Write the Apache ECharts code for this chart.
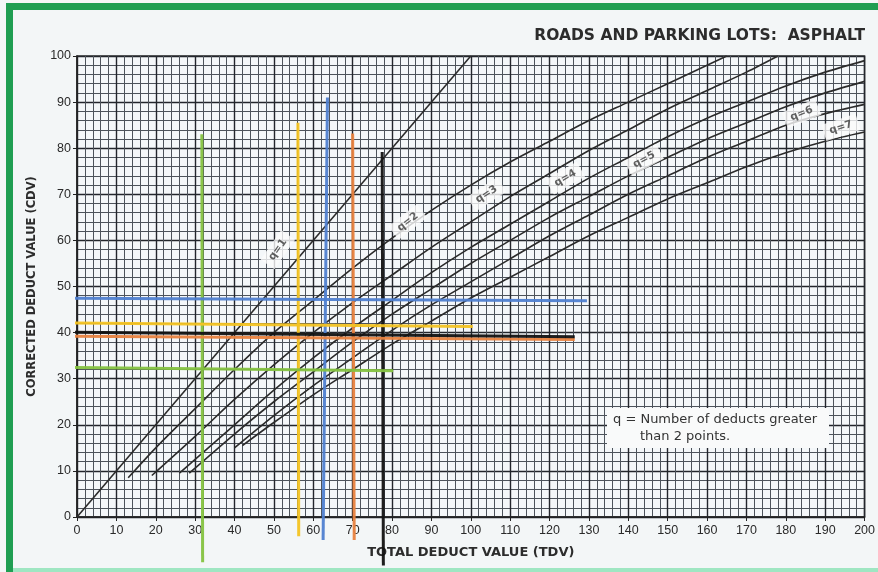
<!DOCTYPE html>
<html>
<head>
<meta charset="utf-8">
<script src="https://cdn.jsdelivr.net/npm/echarts@6/dist/echarts.min.js"></script>
<style>
  html, body { margin: 0; padding: 0; background: #f3f6f7; }
  #cdv-chart { width: 878px; height: 572px; }
</style>
</head>
<body>
<div id="cdv-chart"></div>
<script>
// corrected deduct value curves, [TDV, CDV] pairs
const curveNames = ['q=1', 'q=2', 'q=3', 'q=4', 'q=5', 'q=6', 'q=7'];
const q1 = [[0, 0], [100, 100]];
const q2 = [[13, 8.5], [20, 15], [30, 23.5], [40, 32], [50, 40], [60, 47], [70, 54], [80, 60.5], [90, 66.5], [100, 72], [110, 77], [120, 81.5], [130, 86], [140, 90], [150, 94], [160, 98], [165, 100]];
const q3 = [[19, 9], [30, 17.5], [40, 25.5], [50, 33], [60, 40], [70, 46.5], [80, 52.5], [90, 58.5], [100, 64], [110, 69.5], [120, 74.5], [130, 79.5], [140, 84], [150, 88.5], [160, 92.5], [170, 96.5], [178, 100]];
const q4 = [[26, 9.5], [30, 12.5], [40, 20], [50, 27.5], [60, 34.5], [70, 41], [80, 47], [90, 53], [100, 58.5], [110, 63.5], [120, 68.5], [130, 73.5], [140, 78], [150, 82.5], [160, 86.5], [170, 90], [180, 93.5], [190, 96.5], [200, 99]];
const q5 = [[28.5, 9.5], [40, 18], [50, 25], [60, 31.5], [70, 38], [80, 44], [90, 49.5], [100, 55], [110, 60], [120, 65], [130, 69.5], [140, 74], [150, 78], [160, 82], [170, 85.5], [180, 89], [190, 92], [200, 94.5]];
const q6 = [[40, 15], [50, 22], [60, 28.5], [70, 34.5], [80, 40.5], [90, 46], [100, 51], [110, 56], [120, 61], [130, 65.5], [140, 70], [150, 74], [160, 78], [170, 81.5], [180, 85], [190, 87.5], [200, 89.5]];
const q7 = [[42, 15.5], [50, 20.5], [60, 26.5], [70, 32], [80, 37.5], [90, 42.5], [100, 47.5], [110, 52], [120, 56.5], [130, 61], [140, 65], [150, 69], [160, 72.5], [170, 76], [180, 79], [190, 81.5], [200, 83.5]];
const curves = [q1, q2, q3, q4, q5, q6, q7];

// where each q label sits on its curve: [TDV, CDV, rotation]
const curveLabelAt = [[51, 58, 55], [84, 64, 38], [104, 70, 33], [124, 73.5, 30], [144, 77.5, 28], [184, 87.5, 22], [194, 84.5, 18]];

// hand-drawn reading lines over the chart
const guideColors = ['#84c240', '#f3c322', '#4f7fd0', '#e8823f', '#121212'];
const guideVertical = [
    [[31.9, -9.8], [31.7, 83]],
    [[56.3, -4.2], [56.1, 85.5]],
    [[62.5, -5], [63.6, 91]],
    [[70.4, -5], [70, 83.2]],
    [[77.8, -10.5], [77.5, 79.2]]
];
const guideHorizontal = [
    [[-18, 32.6], [80.3, 31.7]],
    [[-18, 42.2], [100.5, 41.3]],
    [[-18, 47.5], [129.5, 46.9]],
    [[-18, 39.3], [126.4, 38.5]],
    [[-14.4, 40.2], [126.4, 39.1]]
];

const xTicks = { min: 0, max: 200, step: 10 };
const yTicks = { min: 0, max: 100, step: 10 };

let chart = echarts.init(document.getElementById('cdv-chart'), null, { renderer: 'canvas' });

let series = [];
curves.forEach(function (pts, i) {
    series.push({
        name: curveNames[i],
        type: 'line',
        data: pts,
        smooth: 0.3,
        showSymbol: false,
        z: 4,
        lineStyle: { color: '#2b2b2b', width: 1.6 }
    });
});
series.push({
    name: 'curve labels',
    type: 'scatter',
    symbol: 'rect',
    z: 6,
    silent: true,
    itemStyle: { color: '#fbfbfb' },
    data: curveLabelAt.map(function (p, i) {
        return {
            value: [p[0], p[1]],
            symbolSize: [36, 17],
            symbolRotate: p[2],
            label: {
                show: true,
                position: 'inside',
                formatter: curveNames[i],
                rotate: p[2],
                fontFamily: 'DejaVu Sans',
                fontSize: 10.5,
                fontWeight: 'bold',
                color: '#3a3a3a'
            }
        };
    })
});
guideVertical.concat(guideHorizontal).forEach(function (pts, i) {
    series.push({
        type: 'line',
        data: pts,
        showSymbol: false,
        clip: false,
        silent: true,
        z: 5,
        lineStyle: { color: guideColors[i % 5], width: 3, opacity: 0.95 }
    });
});

let options = {
    backgroundColor: '#f3f6f7',
    animation: false,
    title: {
        text: 'ROADS AND PARKING LOTS:  ASPHALT',
        right: 8,
        top: 23,
        textStyle: { fontFamily: 'DejaVu Sans', fontSize: 15.5, fontWeight: 'bold', color: '#2c2c2c' }
    },
    grid: { left: 77, right: 9, top: 56, bottom: 55, show: true, backgroundColor: '#f4f7f9', borderColor: '#333', borderWidth: 1.5 },
    xAxis: {
        type: 'value',
        min: xTicks.min, max: xTicks.max, interval: xTicks.step,
        name: 'TOTAL DEDUCT VALUE (TDV)',
        nameLocation: 'middle',
        nameGap: 29,
        nameTextStyle: { fontFamily: 'DejaVu Sans', fontSize: 13, fontWeight: 'bold', color: '#2c2c2c' },
        axisLine: { lineStyle: { color: '#222', width: 1.5 } },
        axisTick: { show: true, length: 4, lineStyle: { color: '#222' } },
        axisLabel: { fontFamily: 'Liberation Sans', fontSize: 12.5, color: '#2a2a2a', margin: 7 },
        splitLine: { lineStyle: { color: '#23262c', width: 1.4 } },
        minorTick: { show: false, splitNumber: 5 },
        minorSplitLine: { show: true, lineStyle: { color: '#4d535b', width: 1 } }
    },
    yAxis: {
        type: 'value',
        min: yTicks.min, max: yTicks.max, interval: yTicks.step,
        name: 'CORRECTED DEDUCT VALUE (CDV)',
        nameLocation: 'middle',
        nameGap: 39,
        nameRotate: 90,
        nameTextStyle: { fontFamily: 'DejaVu Sans', fontSize: 11.5, fontWeight: 'bold', color: '#2c2c2c' },
        axisLine: { show: true, lineStyle: { color: '#222', width: 1.5 } },
        axisTick: { show: true, length: 4, lineStyle: { color: '#222' } },
        axisLabel: { fontFamily: 'Liberation Sans', fontSize: 12.5, color: '#2a2a2a', margin: 6 },
        splitLine: { lineStyle: { color: '#23262c', width: 1.4 } },
        minorTick: { show: false, splitNumber: 5 },
        minorSplitLine: { show: true, lineStyle: { color: '#4d535b', width: 1 } }
    },
    graphic: [
        { type: 'rect', z: 100, shape: { x: 6, y: 3, width: 7, height: 569 }, style: { fill: '#1f9e52' } },
        { type: 'rect', z: 100, shape: { x: 6, y: 3, width: 872, height: 7 }, style: { fill: '#1f9e52' } },
        { type: 'rect', z: 100, shape: { x: 13, y: 568, width: 865, height: 4 }, style: { fill: '#9fe6c2' } },
        { type: 'rect', z: 100, shape: { x: 607, y: 408, width: 222, height: 40 }, style: { fill: '#f9fafa' } },
        { type: 'text', z: 101, x: 613, y: 413, style: { text: 'q = Number of deducts greater', font: '13px "DejaVu Sans"', fill: '#333' } },
        { type: 'text', z: 101, x: 640, y: 430, style: { text: 'than 2 points.', font: '13px "DejaVu Sans"', fill: '#333' } }
    ],
    series: series
};

chart.setOption(options);
</script>
</body>
</html>
